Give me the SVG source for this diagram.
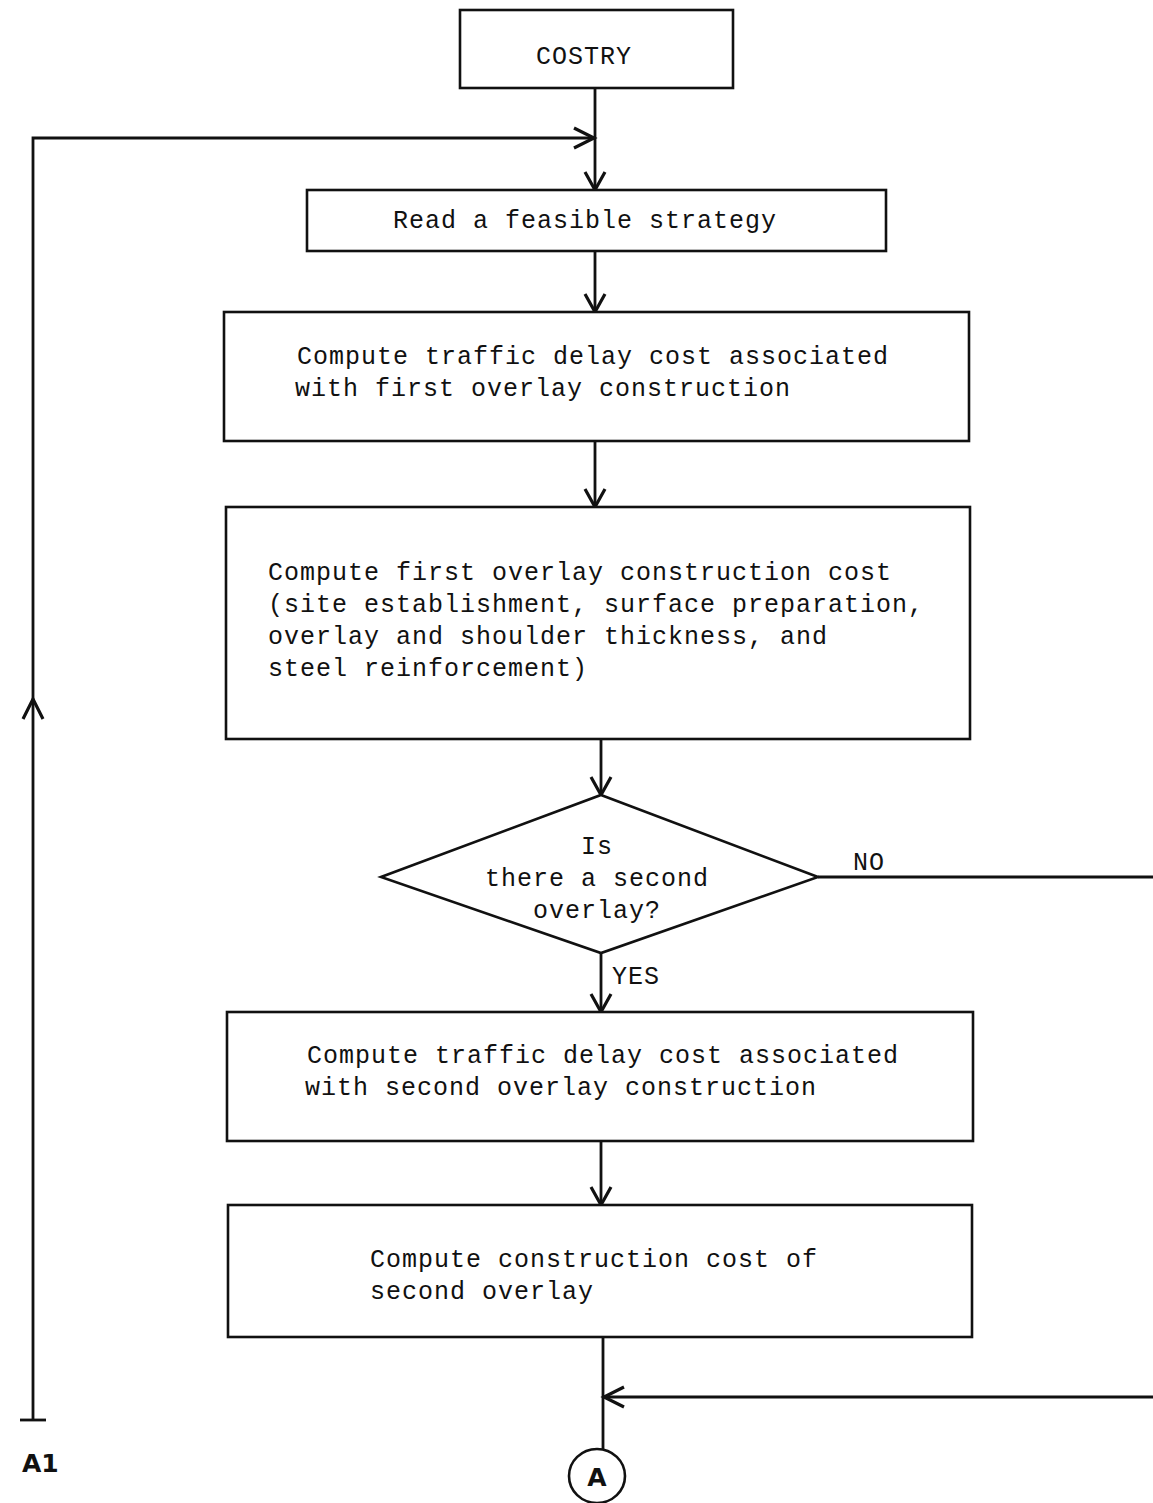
<svg xmlns="http://www.w3.org/2000/svg" width="1153" height="1503" viewBox="0 0 1153 1503">
<style>
.box{fill:#fff;stroke:#111;stroke-width:2.6}
.ln{fill:none;stroke:#111;stroke-width:2.8}
.ah{fill:none;stroke:#111;stroke-width:3.2;stroke-linejoin:miter}
.t{font-family:"Liberation Mono","DejaVu Sans Mono",monospace;font-size:25px;letter-spacing:1px;fill:#111}
.b{font-family:"DejaVu Sans","Liberation Sans",sans-serif;font-weight:bold;font-size:25px;fill:#111}
</style>
<rect width="1153" height="1503" fill="#fff"/>
<g id="connectors">
  <path class="ln" d="M595,88 V190"/>
  <path class="ah" d="M585,172 L595,190 L605,172"/>
  <path class="ln" d="M33,1420 V138 H595"/>
  <path class="ah" d="M574,128 L594,138 L574,148"/>
  <path class="ah" d="M23,719 L33,699 L43,719"/>
  <path class="ln" d="M20,1420 H46"/>
  <path class="ln" d="M595,251 V312"/>
  <path class="ah" d="M585,294 L595,312 L605,294"/>
  <path class="ln" d="M595,441 V507"/>
  <path class="ah" d="M585,489 L595,507 L605,489"/>
  <path class="ln" d="M601,739 V795"/>
  <path class="ah" d="M591,777 L601,795 L611,777"/>
  <path class="ln" d="M818,877 H1153"/>
  <path class="ln" d="M601,953 V1012"/>
  <path class="ah" d="M591,994 L601,1012 L611,994"/>
  <path class="ln" d="M601,1141 V1205"/>
  <path class="ah" d="M591,1187 L601,1205 L611,1187"/>
  <path class="ln" d="M603,1337 V1450"/>
  <path class="ln" d="M1153,1397 H604"/>
  <path class="ah" d="M624,1387 L604,1397 L624,1407"/>
  <text class="t" x="853" y="870">NO</text>
  <text class="t" x="612" y="984">YES</text>
</g>
<g id="costry">
  <rect class="box" x="460" y="10" width="273" height="78"/>
  <text class="t" x="536" y="64">COSTRY</text>
</g>
<g id="read">
  <rect class="box" x="307" y="190" width="579" height="61"/>
  <text class="t" x="393" y="228">Read a feasible strategy</text>
</g>
<g id="delay1">
  <rect class="box" x="224" y="312" width="745" height="129"/>
  <text class="t" x="297" y="364">Compute traffic delay cost associated</text>
  <text class="t" x="295" y="396">with first overlay construction</text>
</g>
<g id="cost1">
  <rect class="box" x="226" y="507" width="744" height="232"/>
  <text class="t" x="268" y="580">Compute first overlay construction cost</text>
  <text class="t" x="268" y="612">(site establishment, surface preparation,</text>
  <text class="t" x="268" y="644">overlay and shoulder thickness, and</text>
  <text class="t" x="268" y="676">steel reinforcement)</text>
</g>
<g id="decision">
  <path class="box" d="M601,795 L818,877 L601,953 L381,877 Z"/>
  <text class="t" x="597" y="854" text-anchor="middle">Is</text>
  <text class="t" x="597" y="886" text-anchor="middle">there a second</text>
  <text class="t" x="597" y="918" text-anchor="middle">overlay?</text>
</g>
<g id="delay2">
  <rect class="box" x="227" y="1012" width="746" height="129"/>
  <text class="t" x="307" y="1063">Compute traffic delay cost associated</text>
  <text class="t" x="305" y="1095">with second overlay construction</text>
</g>
<g id="cost2">
  <rect class="box" x="228" y="1205" width="744" height="132"/>
  <text class="t" x="370" y="1267">Compute construction cost of</text>
  <text class="t" x="370" y="1299">second overlay</text>
</g>
<g id="connectorA">
  <ellipse class="box" cx="597" cy="1476" rx="28" ry="27"/>
  <text class="b" x="597" y="1486" text-anchor="middle">A</text>
</g>
<g id="a1">
  <text class="b" x="22" y="1472">A1</text>
</g>
</svg>
